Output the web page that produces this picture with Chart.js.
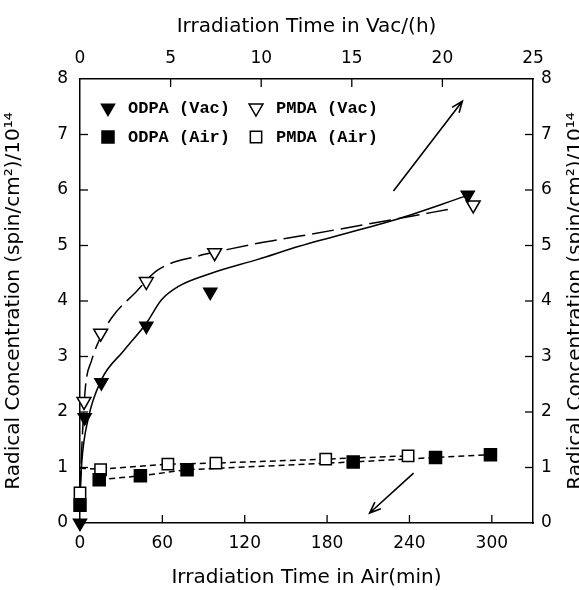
<!DOCTYPE html>
<html>
<head>
<meta charset="utf-8">
<script src="https://cdn.jsdelivr.net/npm/chart.js@4.4.1/dist/chart.umd.min.js"></script>
<style>
    html, body { margin: 0; padding: 0; background: #fff; }
    #grafico { display: block; }
</style>
</head>
<body>
<canvas id="grafico" width="579" height="590"></canvas>
<script>
// ==========================================
// Radical concentration vs irradiation time (Vac / Air)
// ==========================================

// tick labels
var ticksArMin = [0, 60, 120, 180, 240, 300];
var ticksVacH = [0, 5, 10, 15, 20, 25];
var ticksConc = [0, 1, 2, 3, 4, 5, 6, 7, 8];

var odpaVacH = [0, 0.26, 1.18, 3.66, 7.19, 21.4];
var odpaVacConc = [0, 1.9, 2.53, 3.55, 4.16, 5.91];
var pmdaVacH = [0.22, 1.14, 3.66, 7.43, 21.7];
var pmdaVacConc = [2.19, 3.42, 4.35, 4.87, 5.73];
var odpaArMin = [0, 14, 44, 78, 199, 259, 299];
var odpaArConc = [0.32, 0.78, 0.85, 0.96, 1.10, 1.18, 1.23];
var pmdaArMin = [0, 15, 64, 99, 179, 239];
var pmdaArConc = [0.54, 0.96, 1.06, 1.08, 1.15, 1.21];

// hand-drawn fit curves as they appear in the figure
var odpaVacFitH = [0, 0.1, 0.44, 1.18, 2.4, 3.66, 4.49, 5.41, 7.25, 9.82, 12.14, 17.66, 21.2];
var odpaVacFitConc = [0.45, 1.1, 1.86, 2.58, 3.1, 3.6, 4.02, 4.26, 4.5, 4.75, 4.99, 5.49, 5.88];
var pmdaVacFitH = [0, 0.12, 0.3, 0.64, 1.0, 1.73, 3.02, 4.3, 6.51, 8.17, 9.82, 12.14, 17.66, 20.3];
var pmdaVacFitConc = [0.55, 1.5, 2.45, 2.93, 3.25, 3.69, 4.14, 4.56, 4.81, 4.93, 5.04, 5.17, 5.49, 5.65];
var odpaArFitMin = [14, 44, 78, 199, 259, 299];
var odpaArFitConc = [0.78, 0.85, 0.96, 1.10, 1.18, 1.23];
var pmdaArFitMin = [0, 15, 64, 99, 179, 239];
var pmdaArFitConc = [0.985, 0.97, 1.06, 1.08, 1.15, 1.21];

// arrows: [tail, tip] in data units (Vac -> top axis, Air -> bottom axis)
var setaVac = [[17.3, 5.98], [21.1, 7.6]];
var setaAr = [[243, 0.9], [211, 0.18]];

(function () {
    'use strict';

    var fonteTick = { family: 'DejaVu Sans', size: 17 };
    var fonteTitulo = { family: 'DejaVu Sans', size: 20 };
    var tituloY = 'Radical Concentration (spin/cm\u00B2)/10\u00B9\u2074';

    function pares(xs, ys) {
        return xs.map(function (x, i) { return { x: x, y: ys[i] }; });
    }

    function marcador(label, xs, ys, eixoX, estilo, rot, raio, cheio) {
        return {
            label: label,
            data: pares(xs, ys),
            xAxisID: eixoX,
            yAxisID: 'y',
            showLine: false,
            pointStyle: estilo,
            pointRotation: rot,
            pointRadius: raio,
            pointBackgroundColor: cheio ? '#000' : '#fff',
            pointBorderColor: '#000',
            pointBorderWidth: 1.5,
            clip: false
        };
    }

    function curva(xs, ys, eixoX, tracejado, suave) {
        return {
            label: '',
            data: pares(xs, ys),
            xAxisID: eixoX,
            yAxisID: 'y',
            showLine: true,
            pointRadius: 0,
            borderColor: '#000',
            borderWidth: 1.5,
            borderDash: tracejado,
            cubicInterpolationMode: suave ? 'monotone' : 'default',
            tension: 0,
            fill: false,
            clip: false
        };
    }

    function eixo(pos, min, max, valores, tamanho, titulo, padTitulo, padTick) {
        var horizontal = pos === 'top' || pos === 'bottom';
        return {
            type: 'linear',
            position: pos,
            min: min,
            max: max,
            afterBuildTicks: function (s) {
                s.ticks = valores.map(function (v) { return { value: v }; });
            },
            afterFit: function (s) {
                if (horizontal) s.height = tamanho; else s.width = tamanho;
            },
            grid: { display: false, drawTicks: false },
            border: { display: true, color: '#000', width: 1.5 },
            ticks: { color: '#000', font: fonteTick, padding: padTick, maxRotation: 0, autoSkip: false },
            title: {
                display: !!titulo,
                text: titulo || '',
                color: '#000',
                font: fonteTitulo,
                padding: padTitulo
            }
        };
    }

    /// Short tick marks pointing into the plot box.
    var ticksInternos = {
        id: 'ticksInternos',
        afterDraw: function (chart) {
            var ctx = chart.ctx;
            var a = chart.chartArea;
            var len = 8;
            ctx.save();
            ctx.strokeStyle = '#000';
            ctx.lineWidth = 1.3;
            ['x', 'x2', 'y', 'y2'].forEach(function (id) {
                var s = chart.scales[id];
                s.ticks.forEach(function (t) {
                    if (t.value <= s.min || t.value >= s.max) return;
                    var p = s.getPixelForValue(t.value);
                    ctx.beginPath();
                    if (id === 'x') { ctx.moveTo(p, a.bottom); ctx.lineTo(p, a.bottom - len); }
                    if (id === 'x2') { ctx.moveTo(p, a.top); ctx.lineTo(p, a.top + len); }
                    if (id === 'y') { ctx.moveTo(a.left, p); ctx.lineTo(a.left + len, p); }
                    if (id === 'y2') { ctx.moveTo(a.right, p); ctx.lineTo(a.right - len, p); }
                    ctx.stroke();
                });
            });
            ctx.restore();
        }
    };

    /// Arrows telling which axis each group of curves belongs to.
    var setas = {
        id: 'setas',
        afterDraw: function (chart) {
            var ctx = chart.ctx;
            var y = chart.scales.y;
            function desenhar(seta, sx) {
                var x0 = sx.getPixelForValue(seta[0][0]), y0 = y.getPixelForValue(seta[0][1]);
                var x1 = sx.getPixelForValue(seta[1][0]), y1 = y.getPixelForValue(seta[1][1]);
                var ang = Math.atan2(y1 - y0, x1 - x0);
                var h = 12, abre = 0.38;
                ctx.beginPath();
                ctx.moveTo(x0, y0);
                ctx.lineTo(x1, y1);
                ctx.moveTo(x1 - h * Math.cos(ang - abre), y1 - h * Math.sin(ang - abre));
                ctx.lineTo(x1, y1);
                ctx.lineTo(x1 - h * Math.cos(ang + abre), y1 - h * Math.sin(ang + abre));
                ctx.stroke();
            }
            ctx.save();
            ctx.strokeStyle = '#000';
            ctx.lineWidth = 1.6;
            desenhar(setaVac, chart.scales.x2);
            desenhar(setaAr, chart.scales.x);
            ctx.restore();
        }
    };

    /// 2x2 legend inside the plot, top-left.
    var legenda = {
        id: 'legenda',
        afterDraw: function (chart) {
            var ctx = chart.ctx;
            var a = chart.chartArea;
            var cols = [28, 176];
            var linhas = [29, 58];
            ctx.save();
            ctx.font = 'bold 17px "Liberation Mono", monospace';
            ctx.textBaseline = 'middle';
            ctx.textAlign = 'left';
            for (var i = 0; i < 4; i++) {
                var ds = chart.data.datasets[i];
                var px = a.left + cols[i % 2];
                var py = a.top + linhas[Math.floor(i / 2)];
                ctx.fillStyle = ds.pointBackgroundColor;
                ctx.strokeStyle = ds.pointBorderColor;
                ctx.lineWidth = ds.pointBorderWidth;
                Chart.helpers.drawPoint(ctx, {
                    pointStyle: ds.pointStyle,
                    rotation: ds.pointRotation,
                    radius: ds.pointRadius,
                    borderWidth: ds.pointBorderWidth
                }, px, py);
                ctx.fillStyle = '#000';
                ctx.fillText(ds.label, px + 20, py + 1);
            }
            ctx.restore();
        }
    };

    /// Right-hand axis title reads bottom-to-top like the left one.
    var tituloDireita = {
        id: 'tituloDireita',
        afterDraw: function (chart) {
            var ctx = chart.ctx;
            var a = chart.chartArea;
            ctx.save();
            ctx.translate(576, (a.top + a.bottom) / 2);
            ctx.rotate(-Math.PI / 2);
            ctx.font = '20px "DejaVu Sans"';
            ctx.fillStyle = '#000';
            ctx.textAlign = 'center';
            ctx.textBaseline = 'middle';
            ctx.fillText(tituloY, 0, 0);
            ctx.restore();
        }
    };

    var ctx = document.getElementById('grafico').getContext('2d');
    new Chart(ctx, {
        type: 'scatter',
        data: {
            datasets: [
                marcador('ODPA (Vac)', odpaVacH, odpaVacConc, 'x2', 'triangle', 180, 7.5, true),
                marcador('PMDA (Vac)', pmdaVacH, pmdaVacConc, 'x2', 'triangle', 180, 8, false),
                marcador('ODPA (Air)', odpaArMin, odpaArConc, 'x', 'rect', 0, 8.5, true),
                marcador('PMDA (Air)', pmdaArMin, pmdaArConc, 'x', 'rect', 0, 8, false),
                curva(odpaVacFitH, odpaVacFitConc, 'x2', [], true),
                curva(pmdaVacFitH, pmdaVacFitConc, 'x2', [22, 7], true),
                curva(odpaArFitMin, odpaArFitConc, 'x', [6, 4], false),
                curva(pmdaArFitMin, pmdaArFitConc, 'x', [6, 4], false)
            ]
        },
        options: {
            responsive: false,
            devicePixelRatio: 1,
            animation: false,
            events: [],
            layout: { padding: 0 },
            plugins: {
                legend: { display: false },
                tooltip: { enabled: false }
            },
            scales: {
                x: eixo('bottom', 0, 330, ticksArMin, 67, 'Irradiation Time in Air(min)', { top: 0, bottom: 0 }, 10),
                x2: eixo('top', 0, 25, ticksVacH, 79, 'Irradiation Time in Vac/(h)', { top: 15, bottom: 0 }, 10),
                y: eixo('left', 0, 8, ticksConc, 80, tituloY, { top: 2, bottom: 0 }, 12),
                y2: eixo('right', 0, 8, ticksConc, 46, null, 0, 8)
            }
        },
        plugins: [ticksInternos, setas, legenda, tituloDireita]
    });
})();
</script>
</body>
</html>
